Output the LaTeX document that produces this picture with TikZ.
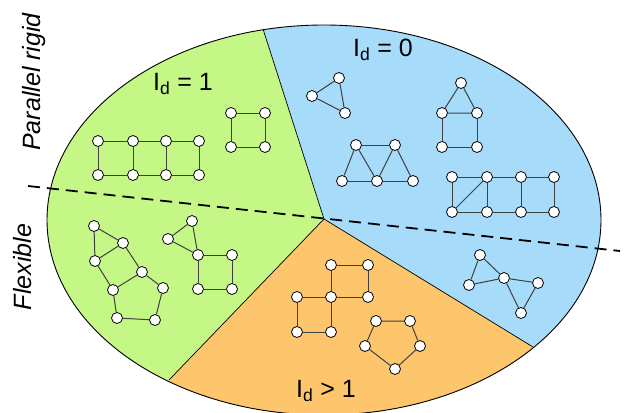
\documentclass[tikz,border=0pt]{standalone}
\usepackage{fontspec}
\setmainfont{Liberation Sans}
\usetikzlibrary{calc}
\definecolor{rigidgreen}{RGB}{196,247,134}
\definecolor{zeroblue}{RGB}{166,219,250}
\definecolor{moreorange}{RGB}{254,198,108}

\begin{document}
\begin{tikzpicture}[
  x=1pt, y=-1pt,
  %% graph vertices: small white discs
  vtx/.style={circle,draw,fill=white,inner sep=0pt,minimum size=11pt,line width=0.8pt},
  %% graph edges
  gedge/.style={line width=1pt,draw=black!75},
  %% sector borders
  border/.style={line width=0.7pt},
  %% big labels
  biglbl/.style={font=\fontsize{25}{30}\selectfont,inner sep=0pt},
  sidelbl/.style={biglbl,font=\fontsize{25}{30}\selectfont\itshape,rotate=90}
]
\useasboundingbox (0,0) rectangle (626,412);

%% ---- SECTORS ----
\coordinate (ctr) at (324,219);
\coordinate (gb)  at (263,29);   % green / blue
\coordinate (go)  at (169,380);  % green / orange
\coordinate (ob)  at (533,347);  % orange / blue
\begin{scope}
  \clip (324,220) ellipse [x radius=277pt, y radius=195pt];
  \fill[zeroblue] (0,0) rectangle (626,420);
  \fill[rigidgreen] (ctr) -- ($(ctr)!3!(gb)$) -- (-300,-300) -- (-300,800) -- ($(ctr)!3!(go)$) -- cycle;
  \fill[moreorange] (ctr) -- ($(ctr)!3!(go)$) -- ($(ctr)!3!(ob)$) -- cycle;
\end{scope}
\draw[border] (ctr) -- (gb);
\draw[border] (ctr) -- (go);
\draw[border] (ctr) -- (ob);
\draw[line width=0.9pt] (324,220) ellipse [x radius=277pt, y radius=195pt];

%% ---- DASHED DIVIDER ----
\coordinate (dashL) at (28,186);
\coordinate (dashR) at (620,251);
\draw[line width=1.8pt,dash pattern=on 12pt off 7pt] (dashL) -- (dashR);

%% ---- LABELS ----
\node[biglbl] (lone)  at (183,84)  {I\textsubscript{d} = 1};
\node[biglbl] (lzero) at (383,50)  {I\textsubscript{d} = 0};
\node[biglbl] (lmore) at (326,391) {I\textsubscript{d} > 1};
\node[sidelbl] (lrigid) at (34,82)  {Parallel rigid};
\node[sidelbl] (lflex)  at (23,267) {Flexible};

%% ---- I_d = 1 : ladder and square ----
\node[vtx] (ta1) at (98,141) {};  \node[vtx] (ta2) at (133,141) {};
\node[vtx] (ta3) at (166,141) {}; \node[vtx] (ta4) at (199,141) {};
\node[vtx] (tb1) at (98,175) {};  \node[vtx] (tb2) at (133,175) {};
\node[vtx] (tb3) at (166,175) {}; \node[vtx] (tb4) at (199,175) {};
\draw[gedge] (ta1) -- (ta2) -- (ta3) -- (ta4);
\draw[gedge] (tb1) -- (tb2) -- (tb3) -- (tb4);
\draw[gedge] (ta1) -- (tb1);
\draw[gedge] (ta2) -- (tb2);
\draw[gedge] (ta3) -- (tb3);
\draw[gedge] (ta4) -- (tb4);

\node[vtx] (sq1) at (231,113) {}; \node[vtx] (sq2) at (265,113) {};
\node[vtx] (sq3) at (231,147) {}; \node[vtx] (sq4) at (265,147) {};
\draw[gedge] (sq1) -- (sq2) -- (sq4) -- (sq3) -- (sq1);

%% ---- I_d = 0 ----
\node[vtx] (tr1) at (339,78) {};
\node[vtx] (tr2) at (312,96) {};
\node[vtx] (tr3) at (345,113) {};
\draw[gedge] (tr1) -- (tr2) -- (tr3) -- (tr1);

\node[vtx] (h1) at (461,83) {};
\node[vtx] (h2) at (442,113) {}; \node[vtx] (h3) at (477,113) {};
\node[vtx] (h4) at (442,147) {}; \node[vtx] (h5) at (477,147) {};
\draw[gedge] (h1) -- (h2) -- (h3) -- (h1);
\draw[gedge] (h2) -- (h4) -- (h5) -- (h3);

\node[vtx] (w1) at (356,145) {}; \node[vtx] (w2) at (395,145) {};
\node[vtx] (w3) at (342,181) {}; \node[vtx] (w4) at (377,181) {};
\node[vtx] (w5) at (413,181) {};
\draw[gedge] (w3) -- (w4) -- (w5);
\draw[gedge] (w1) -- (w2);
\draw[gedge] (w3) -- (w1) -- (w4) -- (w2) -- (w5);

\node[vtx] (d1) at (452,177) {}; \node[vtx] (d2) at (487,177) {};
\node[vtx] (d3) at (521,177) {}; \node[vtx] (d4) at (554,177) {};
\node[vtx] (e1) at (452,212) {}; \node[vtx] (e2) at (487,212) {};
\node[vtx] (e3) at (521,212) {}; \node[vtx] (e4) at (554,212) {};
\draw[gedge] (d1) -- (d2) -- (d3) -- (d4);
\draw[gedge] (e1) -- (e2) -- (e3) -- (e4);
\draw[gedge] (d1) -- (e1);
\draw[gedge] (d2) -- (e2);
\draw[gedge] (d3) -- (e3);
\draw[gedge] (d4) -- (e4);
\draw[gedge] (d2) -- (e1);

\node[vtx] (b1) at (480,255) {};
\node[vtx] (b2) at (469,285) {};
\node[vtx] (b3) at (504,278) {};
\node[vtx] (b4) at (538,283) {};
\node[vtx] (b5) at (521,313) {};
\draw[gedge] (b1) -- (b2) -- (b3) -- (b1);
\draw[gedge] (b3) -- (b4) -- (b5) -- (b3);

%% ---- FLEXIBLE ----
\node[vtx] (f1) at (94,226) {};
\node[vtx] (f2) at (123,243) {};
\node[vtx] (f3) at (95,261) {};
\node[vtx] (f4) at (142,272) {};
\node[vtx] (f5) at (113,290) {};
\node[vtx] (f6) at (163,288) {};
\node[vtx] (f7) at (117,318) {};
\node[vtx] (f8) at (155,320) {};
\draw[gedge] (f1) -- (f2) -- (f3) -- (f1);
\draw[gedge] (f2) -- (f4) -- (f5) -- (f3);
\draw[gedge] (f4) -- (f6) -- (f8) -- (f7) -- (f5);

\node[vtx] (g1) at (192,221) {};
\node[vtx] (g2) at (168,239) {};
\node[vtx] (g3) at (198,255) {}; \node[vtx] (g4) at (232,255) {};
\node[vtx] (g5) at (198,289) {}; \node[vtx] (g6) at (232,289) {};
\draw[gedge] (g1) -- (g2) -- (g3) -- (g1);
\draw[gedge] (g3) -- (g4) -- (g6) -- (g5) -- (g3);

%% ---- I_d > 1 ----
\node[vtx] (o1) at (331,265) {}; \node[vtx] (o2) at (368,265) {};
\node[vtx] (o3) at (297,297) {}; \node[vtx] (o4) at (331,297) {};
\node[vtx] (o5) at (368,297) {};
\node[vtx] (o6) at (297,332) {}; \node[vtx] (o7) at (331,332) {};
\draw[gedge] (o1) -- (o2) -- (o5) -- (o4) -- (o1);
\draw[gedge] (o3) -- (o4) -- (o7) -- (o6) -- (o3);

\node[vtx] (p1) at (376,321) {}; \node[vtx] (p2) at (410,321) {};
\node[vtx] (p3) at (420,346) {};
\node[vtx] (p4) at (395,369) {};
\node[vtx] (p5) at (365,346) {};
\draw[gedge] (p1) -- (p2) -- (p3) -- (p4) -- (p5) -- (p1);

\end{tikzpicture}
\end{document}
